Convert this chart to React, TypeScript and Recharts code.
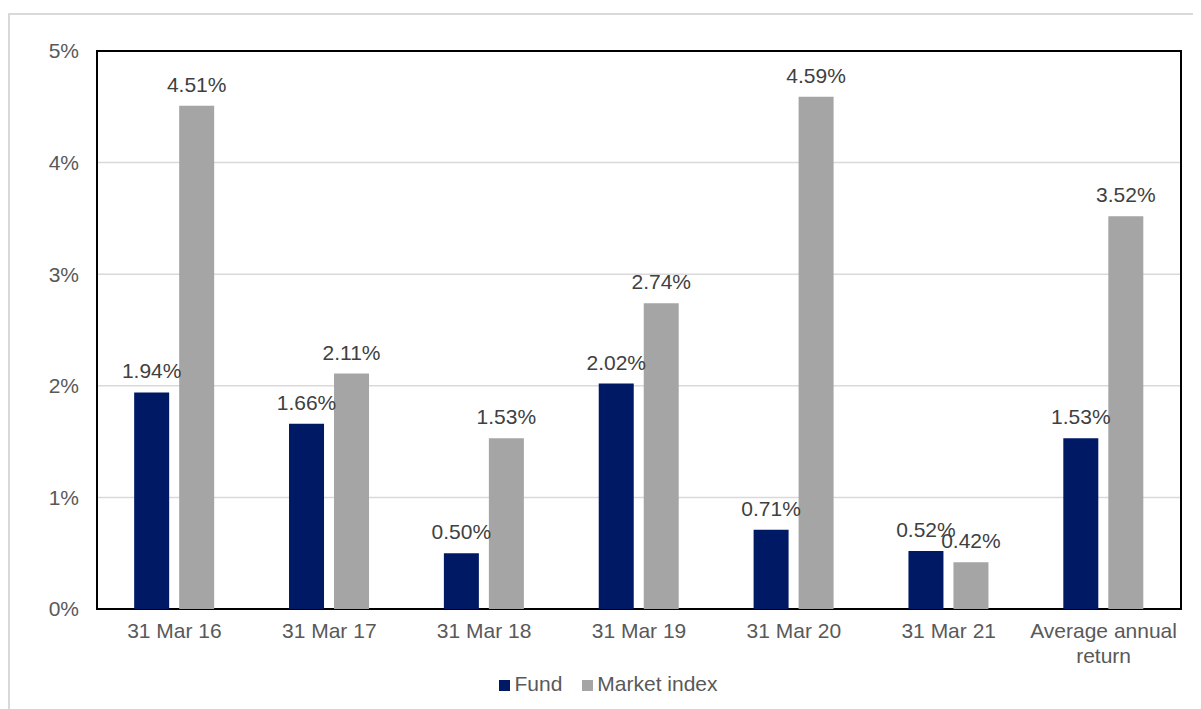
import React from "react";
import { BarChart, Bar, XAxis, YAxis, CartesianGrid, Legend, LabelList, ReferenceArea } from "recharts";

const categories = ["31 Mar 16", "31 Mar 17", "31 Mar 18", "31 Mar 19", "31 Mar 20", "31 Mar 21", "Average annual return"];
const fund = [1.94, 1.66, 0.5, 2.02, 0.71, 0.52, 1.53];
const market = [4.51, 2.11, 1.53, 2.74, 4.59, 0.42, 3.52];
const yTicks = [0, 1, 2, 3, 4, 5];

const data = categories.map((c, i) => ({ name: c, fund: fund[i], market: market[i] }));

const FONT = "'Liberation Sans', Arial, sans-serif";
const FS = 21;

const XTick = (props: any) => {
  const { x, y, payload } = props;
  const v: string = payload.value;
  const lines = v === "Average annual return" ? ["Average annual", "return"] : [v];
  return (
    <g transform={`translate(${x},${y})`}>
      {lines.map((l, i) => (
        <text key={i} x={0} y={0} dy={21 + i * 25} textAnchor="middle" fill="#595959" fontSize={FS} fontFamily={FONT}>
          {l}
        </text>
      ))}
    </g>
  );
};

const fmt = (v: any) => `${Number(v).toFixed(2)}%`;

export default function App() {
  return (
    <div style={{ marginTop: 5, borderTop: "2px solid #d9d9d9", borderLeft: "2px solid #d9d9d9", width: 1200, height: 700, boxSizing: "border-box", fontFamily: FONT }}>
      <BarChart
        width={1185}
        height={690}
        data={data}
        margin={{ top: 36, right: 14, left: 0, bottom: 9 }}
        barCategoryGap="24%"
        barGap={10}
      >
        <CartesianGrid vertical={false} stroke="#d9d9d9" strokeWidth={1.5} />
        <XAxis
          dataKey="name"
          tick={<XTick />}
          tickLine={false}
          axisLine={false}
          height={63}
          interval={0}
        />
        <YAxis
          domain={[0, 5]}
          ticks={yTicks}
          tickFormatter={(v) => `${v}%`}
          tick={{ fill: "#595959", fontSize: FS, fontFamily: FONT }}
          tickLine={false}
          axisLine={false}
          width={87}
          tickMargin={12}
        />
        <ReferenceArea y1={0} y2={5} fill="none" fillOpacity={0} stroke="#000" strokeWidth={2} ifOverflow="visible" />
        <Legend
          verticalAlign="bottom"
          iconType="square"
          iconSize={11}
          wrapperStyle={{ fontSize: FS, fontFamily: FONT, left: 16, width: 1185 }}
          formatter={(value) => <span style={{ color: "#595959", marginRight: 10 }}>{value}</span>}
        />
        <Bar dataKey="fund" name="Fund" fill="#001965" isAnimationActive={false}>
          <LabelList dataKey="fund" position="top" offset={14} formatter={fmt} fill="#404040" fontSize={FS} fontFamily={FONT} />
        </Bar>
        <Bar dataKey="market" name="Market index" fill="#a5a5a5" isAnimationActive={false}>
          <LabelList dataKey="market" position="top" offset={14} formatter={fmt} fill="#404040" fontSize={FS} fontFamily={FONT} />
        </Bar>
      </BarChart>
    </div>
  );
}
